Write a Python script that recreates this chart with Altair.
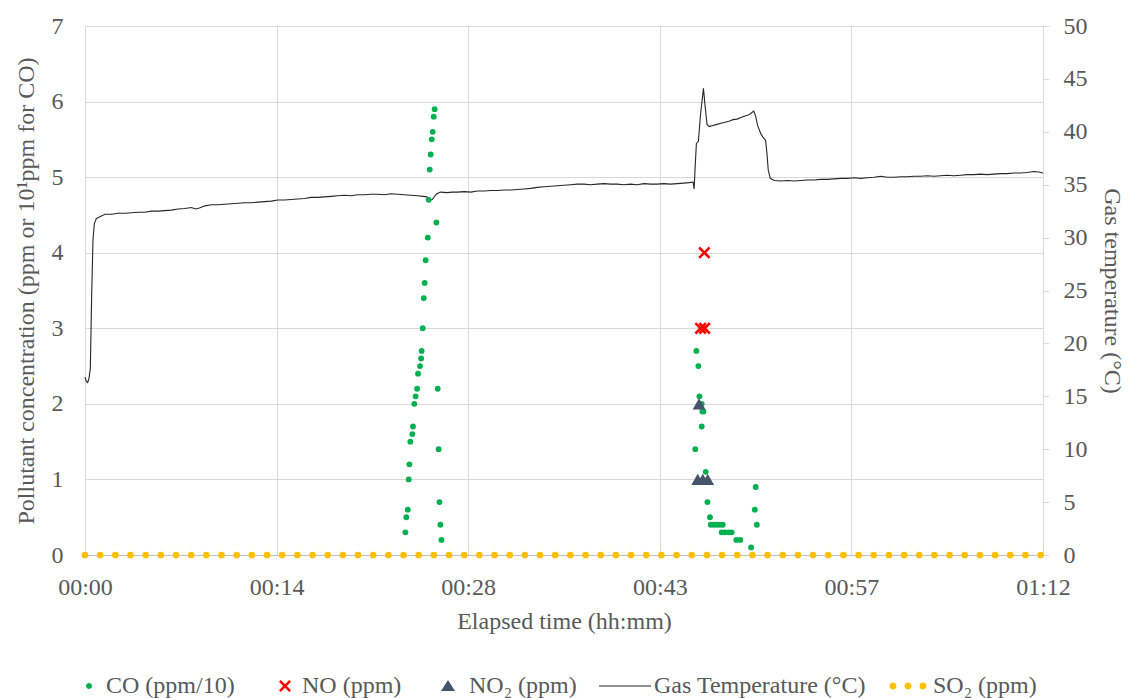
import json
import altair as alt
import pandas as pd

# ---------------- data ----------------
co_min = [24.08, 24.15, 24.26, 24.33, 24.38, 24.45, 24.60, 24.65, 24.75, 24.85, 24.96, 25.03,
          25.18, 25.26, 25.30, 25.38, 25.46, 25.53, 25.60, 25.76, 25.83, 25.91, 25.98, 26.06,
          26.13, 26.21, 26.28, 26.41, 26.51, 26.58, 26.64, 26.71, 26.79,
          45.87, 45.95, 46.10, 46.18, 46.35, 46.40, 46.48, 46.35, 46.65, 46.78, 46.97, 47.03,
          47.26, 47.48, 47.71, 47.93, 47.85, 48.10, 48.38, 48.60, 48.95, 49.25, 50.06, 50.41,
          50.34, 50.49]
co_val = [0.3, 0.5, 0.6, 1.0, 1.2, 1.5, 1.6, 1.7, 2.0, 2.1, 2.2, 2.4,
          2.5, 2.6, 2.7, 3.0, 3.4, 3.6, 3.9, 4.2, 4.7, 5.1, 5.3, 5.5,
          5.6, 5.8, 5.9, 4.4, 2.2, 1.4, 0.7, 0.4, 0.2,
          1.4, 2.7, 2.5, 2.1, 2.0, 1.9, 1.9, 1.7, 1.1, 0.7, 0.5, 0.4,
          0.4, 0.4, 0.4, 0.4, 0.3, 0.3, 0.3, 0.3, 0.2, 0.2, 0.1, 0.9,
          0.6, 0.4]

no_min = [46.27, 46.57, 46.55]
no_val = [3, 3, 4]

no2_min = [46.15, 46.05, 46.43, 46.80]
no2_val = [2, 1, 1, 1]

so2_min = [0.0, 1.14, 2.28, 3.42, 4.56, 5.7, 6.84, 7.98, 9.12, 10.26, 11.4, 12.54, 13.68,
           14.82, 15.96, 17.1, 18.24, 19.38, 20.52, 21.66, 22.8, 23.94, 25.08, 26.22, 27.36,
           28.5, 29.64, 30.78, 31.92, 33.06, 34.2, 35.34, 36.48, 37.62, 38.76, 39.9, 41.04,
           42.18, 43.32, 44.46, 45.6, 46.74, 47.88, 49.02, 50.16, 51.3, 52.44, 53.58, 54.72,
           55.86, 57.0, 58.14, 59.28, 60.42, 61.56, 62.7, 63.84, 64.98, 66.12, 67.26, 68.4,
           69.54, 70.68, 71.82]
so2_val = [0] * len(so2_min)

temp_min = [0.0, 0.1, 0.2, 0.3, 0.4, 0.5, 0.6, 0.7, 0.85, 1.0, 1.5, 2.0, 2.5, 3.0, 3.5, 4.0,
            4.5, 5.0, 5.5, 6.0, 6.5, 7.0, 7.5, 8.0, 8.3, 8.6, 9.0, 9.5, 10.0, 10.5, 11.0, 11.5,
            12.0, 12.5, 13.0, 13.5, 14.0, 14.5, 15.0, 15.5, 16.0, 16.5, 17.0, 17.5, 18.0, 18.5,
            19.0, 19.5, 20.0, 20.5, 21.0, 21.5, 22.0, 22.5, 23.0, 23.5, 24.0, 24.5, 25.0, 25.4,
            25.7, 25.9, 26.1, 26.4, 26.7, 27.2, 27.6, 28.0, 28.5, 29.0, 29.5, 30.0, 30.5, 31.0,
            31.5, 32.0, 32.5, 33.0, 33.5, 34.0, 34.5, 35.0, 35.5, 36.0, 36.5, 37.0, 37.5, 38.0,
            38.5, 39.0, 39.5, 40.0, 40.5, 41.0, 41.5, 42.0, 42.5, 43.0, 43.5, 44.0, 44.5, 45.0,
            45.4, 45.7, 45.78, 45.85, 45.95, 46.1, 46.25, 46.48, 46.6, 46.75, 46.9, 47.2, 47.5,
            47.8, 48.1, 48.4, 48.7, 49.0, 49.3, 49.6, 49.9, 50.1, 50.26, 50.4, 50.55, 50.8,
            50.95, 51.15, 51.25, 51.35, 51.5, 51.8, 52.3, 52.8, 53.3, 53.8, 54.3, 54.8, 55.3,
            55.8, 56.3, 56.8, 57.3, 57.8, 58.3, 58.8, 59.3, 59.8, 60.3, 60.8, 61.3, 61.8, 62.3,
            62.8, 63.3, 63.8, 64.3, 64.8, 65.3, 65.8, 66.3, 66.8, 67.3, 67.8, 68.3, 68.8, 69.3,
            69.8, 70.3, 70.8, 71.3, 71.7, 72.0]
temp_c = [16.8, 16.4, 16.3, 16.7, 17.6, 24.5, 29.8, 31.3, 31.8, 31.9, 32.2, 32.2, 32.3, 32.3,
          32.35, 32.4, 32.4, 32.5, 32.5, 32.55, 32.6, 32.7, 32.75, 32.85, 32.7, 32.8, 33.0,
          33.1, 33.1, 33.15, 33.2, 33.25, 33.3, 33.3, 33.35, 33.4, 33.45, 33.55, 33.55, 33.6,
          33.65, 33.7, 33.8, 33.8, 33.85, 33.9, 33.95, 34.0, 33.95, 34.05, 34.05, 34.1, 34.1,
          34.05, 34.15, 34.1, 34.05, 34.0, 33.95, 33.9, 33.85, 33.55, 33.6, 34.1, 34.3, 34.25,
          34.3, 34.3, 34.35, 34.3, 34.4, 34.4, 34.45, 34.45, 34.5, 34.5, 34.55, 34.6, 34.65,
          34.75, 34.8, 34.85, 34.9, 34.95, 35.0, 35.05, 35.05, 35.0, 35.05, 35.1, 35.05, 35.05,
          35.0, 35.05, 35.0, 35.1, 35.05, 35.05, 35.1, 35.05, 35.1, 35.15, 35.2, 35.25, 34.6,
          36.5, 38.9, 39.1, 41.5, 44.1, 42.5, 40.7, 40.5, 40.6, 40.7, 40.8, 40.9, 41.0, 41.15,
          41.2, 41.35, 41.5, 41.6, 41.8, 41.95, 41.5, 40.6, 39.8, 39.5, 39.2, 38.0, 36.4, 35.6,
          35.4, 35.35, 35.4, 35.35, 35.4, 35.45, 35.45, 35.5, 35.5, 35.55, 35.6, 35.6, 35.65,
          35.6, 35.65, 35.7, 35.8, 35.7, 35.7, 35.75, 35.75, 35.8, 35.8, 35.85, 35.8, 35.85,
          35.9, 35.85, 35.9, 35.95, 35.95, 36.0, 35.95, 36.0, 36.05, 36.05, 36.1, 36.1, 36.15,
          36.25, 36.2, 36.1]

x_tick_values = [0, 14.4, 28.8, 43.2, 57.6, 72]
x_tick_labels = ["00:00", "00:14", "00:28", "00:43", "00:57", "01:12"]
left_ticks = [0, 1, 2, 3, 4, 5, 6, 7]
right_ticks = [0, 5, 10, 15, 20, 25, 30, 35, 40, 45, 50]

series_names = ["CO (ppm/10)", "NO (ppm)", "NO\u2082 (ppm)", "Gas Temperature (°C)", "SO\u2082 (ppm)"]
series_colors = ["#00B050", "#FF0000", "#44546A", "#262626", "#FFC000"]

# ---------------- shapes ----------------
def x_path(cx, h, t):
    pts = [(-h, -h + t), (-h + t, -h), (0, -t), (h - t, -h), (h, -h + t), (t, 0),
           (h, h - t), (h - t, h), (0, t), (-h + t, h), (-h, h - t), (-t, 0)]
    return "M" + "L".join(f"{cx + a:.3f},{b:.3f}" for a, b in pts) + "Z"

def circ(cx, r):
    return (f"M{cx - r:.3f},0A{r},{r} 0 1,0 {cx + r:.3f},0"
            f"A{r},{r} 0 1,0 {cx - r:.3f},0Z")

legend_shapes = [
    circ(0.4, 0.15),
    x_path(0.4, 0.3, 0.09),
    "M0.2,-0.3L0.55,0.25L-0.15,0.25Z",
    "M-1.5,-0.03L1.1,-0.03L1.1,0.03L-1.5,0.03Z",
    circ(-0.75, 0.175) + circ(0.0, 0.175) + circ(0.75, 0.175),
]
data_x_path = x_path(0, 1.0, 0.3)

# ---------------- frames ----------------
pts = pd.concat([
    pd.DataFrame({"t": co_min, "v": co_val, "s": "CO"}),
    pd.DataFrame({"t": no_min, "v": no_val, "s": "NO"}),
    pd.DataFrame({"t": no2_min, "v": no2_val, "s": "NO2"}),
    pd.DataFrame({"t": so2_min, "v": so2_val, "s": "SO2"}),
], ignore_index=True)
temp_df = pd.DataFrame({"t": temp_min, "c": temp_c})
legend_df = pd.DataFrame({"series": series_names})

FONT = "Liberation Serif"
GREY = "#595959"

label_expr = f"{json.dumps(x_tick_labels)}[indexof({json.dumps(x_tick_values)}, datum.value)]"

X = alt.X("t:Q", scale=alt.Scale(domain=[0, 72], nice=False, zero=False),
          axis=alt.Axis(values=x_tick_values, labelExpr=label_expr, title="Elapsed time (hh:mm)",
                        grid=True, gridColor="#d9d9d9", ticks=False, domain=True,
                        domainColor="#bfbfbf", labelPadding=20, titlePadding=10,
                        labelFlush=False))
Y = alt.Y("v:Q", scale=alt.Scale(domain=[0, 7], nice=False),
          axis=alt.Axis(values=left_ticks, title="Pollutant concentration (ppm or 10¹ppm for CO)",
                        grid=True, gridColor="#d9d9d9", ticks=False, domain=False,
                        labelPadding=22, titlePadding=13))

base = alt.Chart(pts)
co = base.transform_filter("datum.s == 'CO'").mark_circle(size=34, opacity=1, color="#00B050").encode(x=X, y=Y)
no = base.transform_filter("datum.s == 'NO'").mark_point(shape=data_x_path, filled=True, size=150,
                                                        opacity=1, color="#FF0000").encode(x=X, y=Y)
no2 = base.transform_filter("datum.s == 'NO2'").mark_point(shape="triangle-up", filled=True, size=165,
                                                          opacity=1, color="#44546A").encode(x=X, y=Y)
so2 = base.transform_filter("datum.s == 'SO2'").mark_circle(size=45, opacity=1, color="#FFC000").encode(x=X, y=Y)

legend_cfg = dict(title=None, orient="none", direction="horizontal",
                  legendX=-24, legendY=640, columns=5,
                  symbolSize=1600, labelOffset=5, columnPadding=22,
                  labelFont=FONT, labelFontSize=24, labelColor=GREY,
                  symbolStrokeWidth=0, labelLimit=400)

legend_layer = alt.Chart(legend_df).transform_filter("false").mark_point(filled=True, opacity=1).encode(
    color=alt.Color("series:N", scale=alt.Scale(domain=series_names, range=series_colors),
                    legend=alt.Legend(**legend_cfg)),
    shape=alt.Shape("series:N", scale=alt.Scale(domain=series_names, range=legend_shapes),
                    legend=alt.Legend(**legend_cfg)),
)

left = alt.layer(co, no, no2, so2, legend_layer)

temp = alt.Chart(temp_df).mark_line(color="#262626", strokeWidth=1.1).encode(
    x=X,
    y=alt.Y("c:Q", scale=alt.Scale(domain=[0, 50], nice=False),
            axis=alt.Axis(orient="right", values=right_ticks, title="Gas temperature (°C)",
                          grid=False, domain=True, domainColor="#d9d9d9", ticks=True,
                          tickColor="#d9d9d9", tickSize=6, labelPadding=14, titlePadding=12)),
)

chart = alt.layer(temp, left).resolve_scale(y="independent").properties(
    width=958, height=529, background="white",
    padding={"left": 5, "top": 6, "right": 4, "bottom": 0},
).configure_view(strokeWidth=0).configure_axis(
    labelFont=FONT, titleFont=FONT, labelFontSize=24, titleFontSize=24,
    labelColor=GREY, titleColor=GREY, titleFontWeight="normal",
)

chart.save("out.html", embed_options={"renderer": "svg", "actions": False})
